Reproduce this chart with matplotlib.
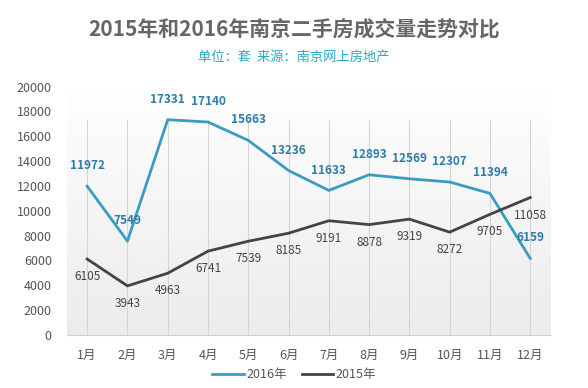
import matplotlib
matplotlib.use('Agg')
import matplotlib.pyplot as plt
import numpy as np

plt.rcParams['font.family'] = ['Noto Sans CJK SC', 'DejaVu Sans']

months = ['1月', '2月', '3月', '4月', '5月', '6月', '7月', '8月', '9月', '10月', '11月', '12月']
sales_2016 = [11972, 7549, 17331, 17140, 15663, 13236, 11633, 12893, 12569, 12307, 11394, 6159]
sales_2015 = [6105, 3943, 4963, 6741, 7539, 8185, 9191, 8878, 9319, 8272, 9705, 11058]

c2016 = '#3a9cc0'
c2015 = '#444444'

fig = plt.figure(figsize=(5.88, 3.88), dpi=100)
ax = fig.add_axes([0.114, 0.137, 0.822, 0.64])

x = np.arange(len(months))

# soft gradient background like the original
grad = np.linspace(0, 1, 100).reshape(-1, 1)
ax.imshow(grad, extent=(-0.5, 11.5, 0, 20500), aspect='auto', origin='lower',
          cmap=matplotlib.colors.LinearSegmentedColormap.from_list('g', ['#ececec', '#ffffff']),
          zorder=0)

for xi in x:
    ax.plot([xi, xi], [0, 17300], color='#d4d4d4', lw=0.8, zorder=1)

ax.plot(x, sales_2016, color=c2016, lw=2, label='2016年', zorder=3)
ax.plot(x, sales_2015, color=c2015, lw=2, label='2015年', zorder=3)

for xi, v in zip(x, sales_2016):
    ax.annotate(str(v), (xi, v), xytext=(0, 10), textcoords='offset points',
                ha='center', va='bottom', fontsize=8.5, color='#2f7ca6', fontweight='bold')
for xi, v in zip(x, sales_2015):
    ax.annotate(str(v), (xi, v), xytext=(0, -8), textcoords='offset points',
                ha='center', va='top', fontsize=8.5, color='#444444')

ax.set_xlim(-0.5, 11.5)
ax.set_ylim(0, 20000)
ax.set_yticks(range(0, 20001, 2000))
ax.set_xticks(x)
ax.set_xticklabels(months)
ax.tick_params(axis='both', length=0, labelsize=9, colors='#555555')
ax.tick_params(axis='x', pad=10)
ax.tick_params(axis='y', pad=11)
for s in ['top', 'right', 'left']:
    ax.spines[s].set_visible(False)
ax.spines['bottom'].set_color('#d0d0d0')

fig.text(0.5, 0.925, '2015年和2016年南京二手房成交量走势对比', ha='center', va='center',
         fontsize=15, fontweight='bold', color='#666666')
fig.text(0.5, 0.853, '单位：套  来源：南京网上房地产', ha='center', va='center',
         fontsize=9.5, color='#2aa8c8', fontweight='medium')

fig.legend(loc='center', bbox_to_anchor=(0.5, 0.035), ncol=2, frameon=False,
           fontsize=9, handlelength=2.5, columnspacing=1.2, handletextpad=0.2,
           labelcolor='#555555')

fig.savefig('out.png', dpi=100)
